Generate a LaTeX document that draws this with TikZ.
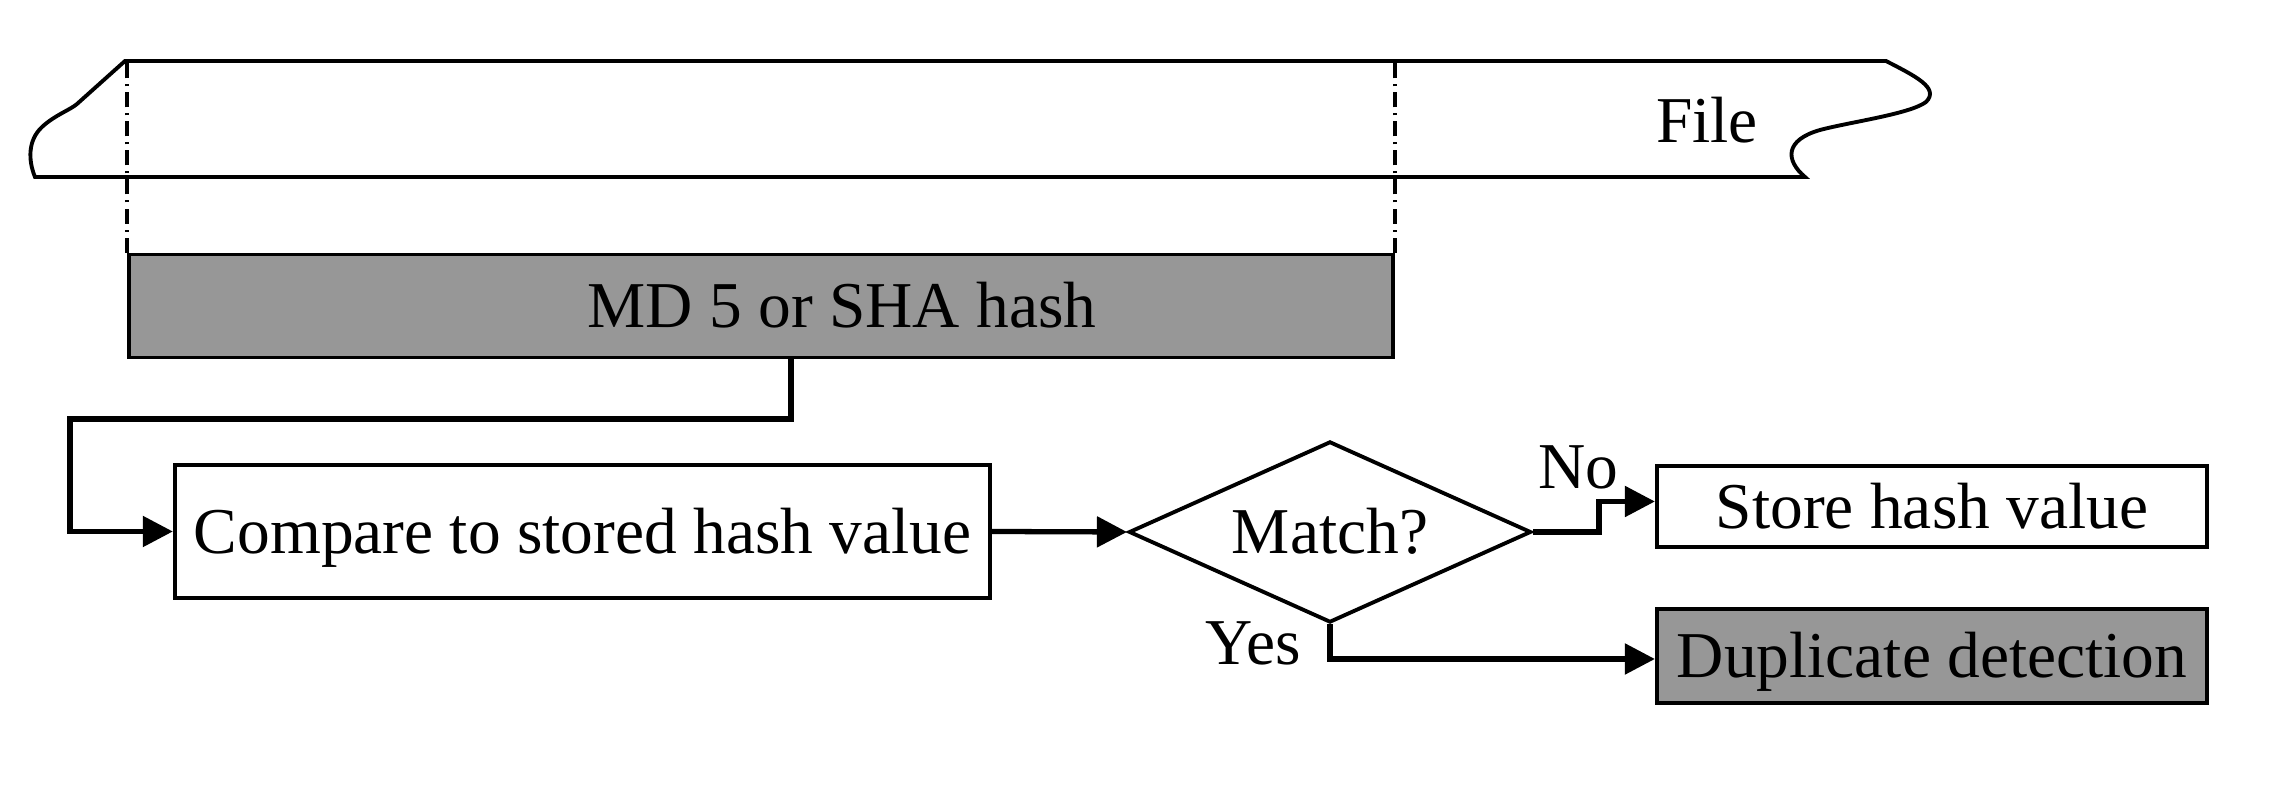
\documentclass[tikz,border=0pt]{standalone}
\usepackage{fontspec}
\setmainfont{Liberation Serif}
\usepackage{tikz}
\usetikzlibrary{arrows.meta,shapes.geometric}
\definecolor{hashgray}{HTML}{979797}
\tikzset{
    box-text/.style = {text height=12.3pt, text depth=0pt},
    flow-box/.style = {draw=black, fill=white, line width=1.1pt, rectangle, inner sep=0pt, box-text},
    gray-box/.style = {flow-box, fill=hashgray},
    decision-box/.style = {draw=black, line width=1.1pt, diamond, aspect=2.22, inner sep=0pt, box-text},
    flow-arrow/.style = {line width=1.5pt, -{Triangle[length=0.3cm, width=0.3cm]}},
    cut-line/.style = {line width=1.1pt, dash pattern=on 0.15cm off 0.06cm on 0.02cm off 0.06cm},
}

\begin{document}
\begin{tikzpicture}[x=0.01cm, y=-0.01cm, font=\fontsize{18.6}{22}\selectfont]
\useasboundingbox (0,0) rectangle (2284,792);

% the file, cut off at both ends
\coordinate (file-nw) at (125,61);
\draw[line width=1.1pt] (file-nw) -- (1886,61)
    .. controls (1915,76) and (1940,88) .. (1926,102)
    .. controls (1910,114) and (1850,122) .. (1820,130)
    .. controls (1785,140) and (1785,160) .. (1805,177)
    -- (35,177)
    .. controls (28,160) and (28,140) .. (42,127)
    .. controls (55,115) and (70,110) .. (77,104) -- cycle;
\node[box-text] (file) at (1707,121) {File};

\node[gray-box, minimum width=12.64cm, minimum height=1.03cm,
      label={[box-text, xshift=0.81cm]center:MD 5 or SHA hash}] (hash) at (761,306) {};
\draw[cut-line] (hash.north west) -- (hash.north west |- file-nw);
\draw[cut-line] (hash.north east) -- (hash.north east |- file-nw);

\node[flow-box, minimum width=8.15cm, minimum height=1.33cm] (compare) at (582.5,531.5) {Compare to stored hash value};
\node[decision-box, minimum width=4.02cm, minimum height=1.81cm] (match) at (1330,532) {Match?};
\node[flow-box, minimum width=5.5cm, minimum height=0.81cm] (store) at (1932,506.5) {Store hash value};
\node[gray-box, minimum width=5.5cm, minimum height=0.94cm] (dup) at (1932,656) {Duplicate detection};

\coordinate (bend-left) at (70,419);
\draw[flow-arrow] ([xshift=0.3cm]hash.south) |- (bend-left) |- (compare.west);
\draw[flow-arrow] (compare.east) -- (match.west);
\draw[flow-arrow] (match.east) -- ++(66,0) |- ([yshift=0.05cm]store.west);
\draw[flow-arrow] (match.south) |- ([yshift=-0.03cm]dup.west);

\node[box-text] (no) at (1578,467) {No};
\node[box-text] (yes) at (1253,643) {Yes};
\end{tikzpicture}
\end{document}
